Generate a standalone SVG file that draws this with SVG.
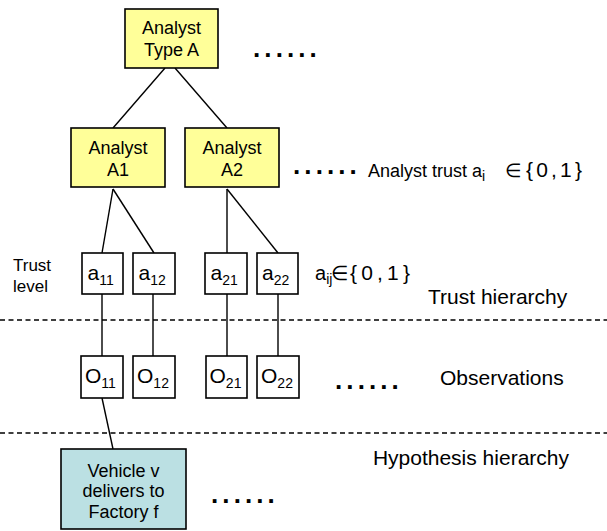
<svg xmlns="http://www.w3.org/2000/svg" width="607" height="531" viewBox="0 0 607 531">
<style>
text{font-family:"Liberation Sans",Arial,sans-serif;fill:#000}
.box{fill:#ffff99;stroke:#000;stroke-width:1.6}
.sq{fill:#fff;stroke:#000;stroke-width:1.6}
.hyp{fill:#bbe0e3;stroke:#000;stroke-width:1.6}
.t18{font-size:18px}
.mid{text-anchor:middle}
.big{font-size:21px}
.sub{font-size:14px}
.lbl{font-size:21px}
.set{font-size:21px}
.dots{font-size:26px;font-weight:bold;letter-spacing:4.1px}
.conn line{stroke:#000;stroke-width:1.4}
.sep{stroke:#000;stroke-width:1.5;stroke-dasharray:5 3.5}
</style>
<g id="separators">
<line class="sep" x1="0" y1="320" x2="607" y2="320"/>
<line class="sep" x1="0" y1="433" x2="607" y2="433"/>
</g>
<g id="connectors" class="conn">
<line x1="165" y1="68" x2="113" y2="128"/>
<line x1="175" y1="68" x2="227" y2="128"/>
<line x1="113" y1="189" x2="102" y2="253"/>
<line x1="113" y1="189" x2="154" y2="253"/>
<line x1="227" y1="189" x2="227" y2="253"/>
<line x1="227" y1="189" x2="278" y2="253"/>
<line x1="102" y1="294" x2="102" y2="356"/>
<line x1="153" y1="294" x2="153" y2="356"/>
<line x1="227" y1="294" x2="227" y2="356"/>
<line x1="278" y1="294" x2="278" y2="356"/>
<line x1="102" y1="398" x2="113" y2="449"/>
</g>
<g id="analyst-type-a">
<rect class="box" x="125" y="9" width="93" height="59"/>
<text class="t18 mid" x="171.5" y="33.5">Analyst</text>
<text class="t18 mid" x="171.5" y="56">Type A</text>
</g>
<g id="analyst-a1">
<rect class="box" x="71" y="128" width="94" height="59"/>
<text class="t18 mid" x="118" y="154">Analyst</text>
<text class="t18 mid" x="118" y="176">A1</text>
</g>
<g id="analyst-a2">
<rect class="box" x="185" y="128" width="94" height="59"/>
<text class="t18 mid" x="232" y="154">Analyst</text>
<text class="t18 mid" x="232" y="176">A2</text>
</g>
<g id="a11">
<rect class="sq" x="82" y="253" width="41" height="41"/>
<text class="big" x="87.5" y="280">a<tspan class="sub" dy="5">11</tspan></text>
</g>
<g id="a12">
<rect class="sq" x="133" y="253" width="42" height="41"/>
<text class="big" x="138.5" y="280">a<tspan class="sub" dy="5">12</tspan></text>
</g>
<g id="a21">
<rect class="sq" x="205" y="253" width="42" height="41"/>
<text class="big" x="210.5" y="280">a<tspan class="sub" dy="5">21</tspan></text>
</g>
<g id="a22">
<rect class="sq" x="257" y="253" width="41" height="41"/>
<text class="big" x="262" y="280">a<tspan class="sub" dy="5">22</tspan></text>
</g>
<g id="o11">
<rect class="sq" x="81" y="356" width="42" height="42"/>
<text class="big" x="85" y="383">O<tspan class="sub" dy="5">11</tspan></text>
</g>
<g id="o12">
<rect class="sq" x="133" y="356" width="42" height="42"/>
<text class="big" x="137" y="383">O<tspan class="sub" dy="5">12</tspan></text>
</g>
<g id="o21">
<rect class="sq" x="206" y="356" width="41" height="42"/>
<text class="big" x="209.5" y="383">O<tspan class="sub" dy="5">21</tspan></text>
</g>
<g id="o22">
<rect class="sq" x="257" y="356" width="42" height="42"/>
<text class="big" x="261" y="383">O<tspan class="sub" dy="5">22</tspan></text>
</g>
<g id="hypothesis">
<rect class="hyp" x="61" y="449" width="125" height="80"/>
<text class="t18 mid" x="123.5" y="477">Vehicle v</text>
<text class="t18 mid" x="123.5" y="497">delivers to</text>
<text class="t18 mid" x="123.5" y="518">Factory f</text>
</g>
<g id="labels">
<text style="font-size:17px" x="13" y="271">Trust</text>
<text style="font-size:17px" x="13" y="292">level</text>
<text class="t18" x="368" y="177">Analyst trust a<tspan class="sub" dy="4">i</tspan><tspan dy="-4" x="505" style="font-size:19px">∈</tspan><tspan class="set" x="526" textLength="56" lengthAdjust="spacing">{0,1}</tspan></text>
<text style="font-size:20px" x="315" y="280">a<tspan class="sub" dy="4">ij</tspan><tspan dy="-4" x="331">∈</tspan><tspan class="set" x="350" textLength="60" lengthAdjust="spacing">{0,1}</tspan></text>
<text class="lbl" x="428" y="304">Trust hierarchy</text>
<text class="lbl" x="440" y="385">Observations</text>
<text class="lbl" x="569" y="465" text-anchor="end">Hypothesis hierarchy</text>
</g>
<g id="ellipses">
<text class="dots" x="253" y="57">......</text>
<text class="dots" x="293" y="174">......</text>
<text class="dots" x="335" y="389">......</text>
<text class="dots" x="211" y="503">......</text>
</g>
</svg>
